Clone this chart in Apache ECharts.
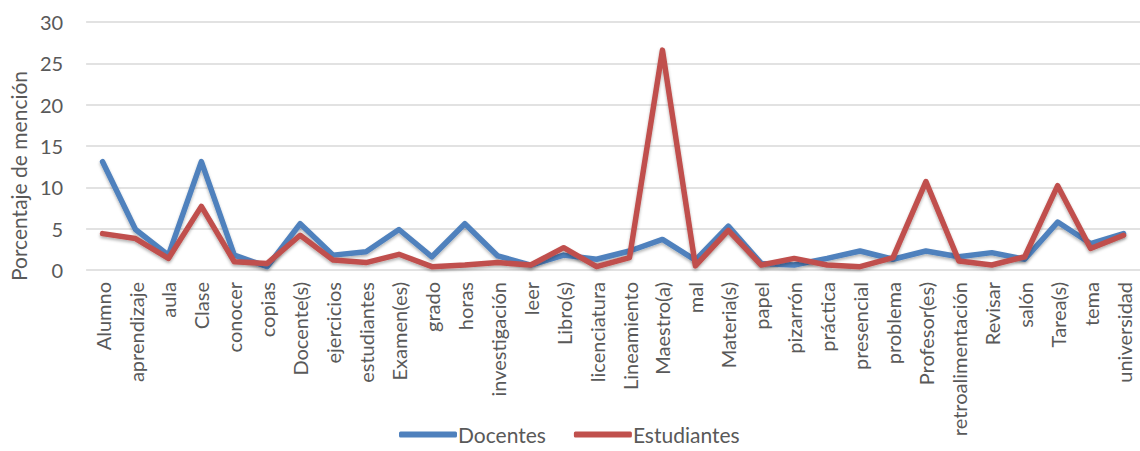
<!DOCTYPE html>
<html><head><meta charset="utf-8">
<script src="https://cdn.jsdelivr.net/npm/echarts@6/dist/echarts.min.js"></script>
<style>html,body{margin:0;padding:0;background:#fff}#c{width:1140px;height:451px}</style>
</head><body><div id="c"></div>
<script>
const categories = ["Alumno","aprendizaje","aula","Clase","conocer","copias","Docente(s)","ejercicios","estudiantes","Examen(es)","grado","horas","investigación","leer","Libro(s)","licenciatura","Lineamiento","Maestro(a)","mal","Materia(s)","papel","pizarrón","práctica","presencial","problema","Profesor(es)","retroalimentación","Revisar","salón","Tarea(s)","tema","universidad"];
const docentes = [13.1,4.9,1.8,13.1,1.8,0.4,5.6,1.8,2.2,4.9,1.6,5.6,1.7,0.6,1.8,1.3,2.3,3.7,1.2,5.3,0.8,0.6,1.4,2.3,1.3,2.3,1.6,2.1,1.3,5.8,3.2,4.4];
const estudiantes = [4.4,3.8,1.4,7.7,1.0,0.8,4.2,1.2,0.9,1.9,0.4,0.6,0.9,0.6,2.7,0.4,1.5,26.6,0.5,4.8,0.6,1.4,0.6,0.4,1.5,10.7,1.1,0.6,1.6,10.2,2.6,4.2];
const yTicks = [0,5,10,15,20,25,30];
const seriesNames = ["Docentes","Estudiantes"];

const font = "Lato";
const txt = "#595959";
const chart = echarts.init(document.getElementById('c'), null, {renderer:'svg'});
chart.setOption({
  animation:false,
  grid:{left:86, top:22, width:1062, height:248, containLabel:false},
  legend:{
    data:seriesNames, bottom:1, left:394,
    itemWidth:58, itemHeight:6, itemGap:28, icon:'roundRect',
    textStyle:{fontFamily:font, fontSize:21, color:txt, padding:[0,0,0,-4]}
  },
  xAxis:{
    type:'category', data:categories, boundaryGap:true,
    axisLine:{show:false}, axisTick:{show:false},
    axisLabel:{rotate:90, interval:0, fontFamily:font, fontSize:20, color:txt, margin:12}
  },
  yAxis:{
    type:'value', min:yTicks[0], max:yTicks[yTicks.length-1], interval:5,
    name:'Porcentaje de mención', nameLocation:'middle', nameGap:57, nameRotate:90,
    nameTextStyle:{fontFamily:font, fontSize:21, color:txt, padding:[0,60,0,0]},
    axisLine:{show:false}, axisTick:{show:false},
    axisLabel:{fontFamily:font, fontSize:20, color:txt, margin:23},
    splitLine:{lineStyle:{color:'#D9D9D9', width:1.5}}
  },
  series:[
    {name:seriesNames[0], type:'line', data:docentes, symbol:'none', smooth:false,
     itemStyle:{color:'#4F81BD'},
     lineStyle:{color:'#4F81BD', width:5.5, join:'round', cap:'round', shadowColor:'rgba(0,0,0,0.3)', shadowBlur:3, shadowOffsetY:2}},
    {name:seriesNames[1], type:'line', data:estudiantes, symbol:'none', smooth:false,
     itemStyle:{color:'#C0504D'},
     lineStyle:{color:'#C0504D', width:5.5, join:'round', cap:'round', shadowColor:'rgba(0,0,0,0.3)', shadowBlur:3, shadowOffsetY:2}}
  ]
});
</script></body></html>
